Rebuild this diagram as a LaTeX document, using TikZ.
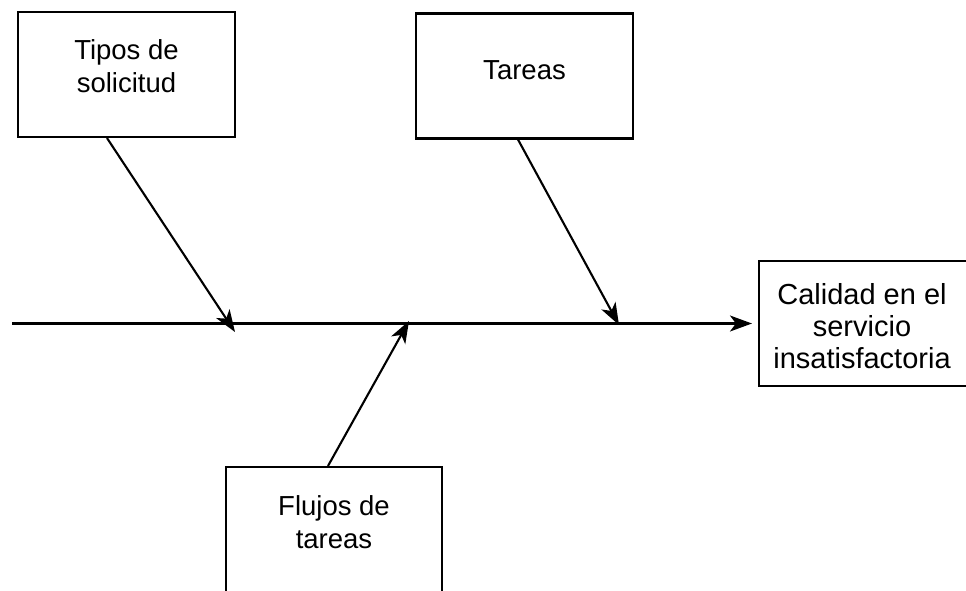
\documentclass[tikz,border=0pt]{standalone}
\usepackage{fontspec}
\setmainfont{Liberation Sans}
\usetikzlibrary{arrows.meta}
\begin{document}
\begin{tikzpicture}[x=1pt,y=-1pt,
  line width=2.1pt,
  causebox/.style={draw, minimum width=217pt, minimum height=125pt, inner sep=0pt},
  lbl/.style={align=center, font=\fontsize{27.5}{33}\selectfont, inner sep=0pt},
  effectlbl/.style={align=center, font=\fontsize{29}{32}\selectfont, inner sep=0pt},
  bone/.style={-{Stealth[length=22pt,width=16pt,inset=6pt]}}
]
\useasboundingbox (0,0) rectangle (966,591);
\begin{scope}
\clip (0,0) rectangle (966,591);

% cause boxes and the effect box
\node[causebox] (b1) at (126.5,74.5) {};
\node[causebox] (b2) at (524.5,76) {};
\node[causebox, minimum width=216pt] (b3) at (334,529.5) {};
\node[causebox, minimum width=209pt] (res) at (863.5,323.5) {};

% labels
\node[lbl] (t1) at ([yshift=8pt]b1.center) {Tipos de\\solicitud};
\node[lbl] (t2) at ([yshift=6pt]b2.center) {Tareas};
\node[lbl] (t3) at ([yshift=7pt]b3.center) {Flujos de\\tareas};
\node[effectlbl] (t4) at ([xshift=-1.5pt,yshift=-3pt]res.center) {Calidad en el\\servicio\\insatisfactoria};

% spine
\coordinate (s0) at (12,323.5);
\draw[bone, shorten >=6pt] (s0) -- (res.west);

% ribs meeting the spine
\coordinate (c1) at (235,332);
\coordinate (c2) at (619,325);
\coordinate (c3) at (409,321);
\draw[bone] ([xshift=-19.5pt]b1.south) -- (c1);
\draw[bone] ([xshift=-6.5pt]b2.south) -- (c2);
\draw[bone] ([xshift=-6pt]b3.north) -- (c3);
\end{scope}
\end{tikzpicture}
\end{document}
